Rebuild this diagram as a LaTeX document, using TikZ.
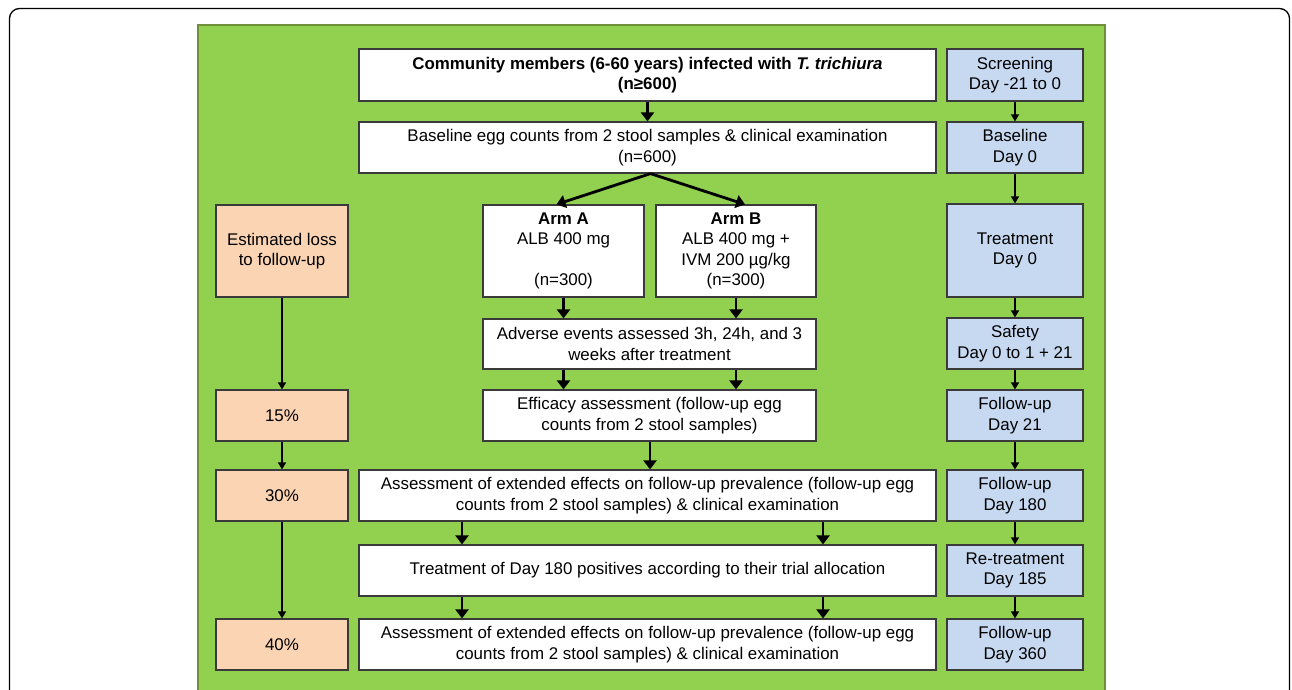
\documentclass[tikz,border=0pt]{standalone}
\usepackage{fontspec}
\setmainfont{Liberation Sans}
\usetikzlibrary{arrows.meta,calc}
\definecolor{panelgreen}{HTML}{92D050}
\definecolor{panelborder}{HTML}{6F8F3A}
\definecolor{peach}{HTML}{FBD4B4}
\definecolor{lightblue}{HTML}{C6D9F1}
\definecolor{boxline}{HTML}{3A3A3A}
\begin{document}
\begin{tikzpicture}[x=1pt,y=-1pt,
  box/.style={draw=boxline,line width=1.2pt,inner sep=0pt,align=center,
    font=\fontsize{16.9}{20.6}\selectfont},
  whitebox/.style={box,fill=white},
  lossbox/.style={box,fill=peach,minimum width=132pt},
  timebox/.style={box,fill=lightblue,minimum width=136pt},
  thick arrow/.style={line width=2.8pt,-{Triangle[width=13pt,length=9pt]}},
  thin arrow/.style={line width=1.2pt,-{Triangle[width=8pt,length=7pt]}}]
\clip (0,0) rectangle (1292,689);
\useasboundingbox (0,0) rectangle (1292,689);
\fill[white] (0,0) rectangle (1292,689);
% outer frame
\draw[line width=1.3pt,rounded corners=10pt] (9.5,720) -- (9.5,8.5) -- (1289.5,8.5) -- (1289.5,720);
% green panel
\draw[fill=panelgreen,draw=panelborder,line width=2pt] (198,25) rectangle (1105,720);

% main column
\node[whitebox,minimum width=577pt,minimum height=52pt] (top) at (647.5,75)
  {\textbf{Community members (6-60 years) infected with \textit{T. trichiura}}\\\textbf{(n≥600)}};
\node[whitebox,minimum width=577pt,minimum height=51pt] (base) at (647.5,147.5)
  {Baseline egg counts from 2 stool samples \& clinical examination\\(n=600)};
\node[whitebox,minimum width=161pt,minimum height=92pt] (armA) at (563.5,251)
  {\textbf{Arm A}\\ALB 400 mg\\\strut\\(n=300)};
\node[whitebox,minimum width=160pt,minimum height=92pt] (armB) at (736,251)
  {\textbf{Arm B}\\ALB 400 mg +\\IVM 200 µg/kg\\(n=300)};
\node[whitebox,minimum width=333pt,minimum height=50pt] (adv) at (649.5,344)
  {Adverse events assessed 3h, 24h, and 3\\weeks after treatment};
\node[whitebox,minimum width=333pt,minimum height=51pt] (eff) at (649.5,415.5)
  {Efficacy assessment (follow-up egg\\counts from 2 stool samples)};
\node[whitebox,minimum width=577pt,minimum height=51pt] (ass1) at (647.5,495.5)
  {Assessment of extended effects on follow-up prevalence (follow-up egg\\counts from 2 stool samples) \& clinical examination};
\node[whitebox,minimum width=577pt,minimum height=51pt] (treat) at (647.5,570.5)
  {Treatment of Day 180 positives according to their trial allocation};
\node[whitebox,minimum width=577pt,minimum height=51pt] (ass2) at (647.5,644.5)
  {Assessment of extended effects on follow-up prevalence (follow-up egg\\counts from 2 stool samples) \& clinical examination};

% loss column
\node[lossbox,minimum height=92pt] (loss) at (282,251) {Estimated loss\\to follow-up};
\node[lossbox,minimum height=51pt] (p15) at (282,415.5) {15\%};
\node[lossbox,minimum height=51pt] (p30) at (282,495.5) {30\%};
\node[lossbox,minimum height=51pt] (p40) at (282,644.5) {40\%};

% time column
\node[timebox,minimum height=52pt] (scr) at (1015,75) {Screening\\Day -21 to 0};
\node[timebox,minimum height=51pt] (bl) at (1015,147.5) {Baseline\\Day 0};
\node[timebox,minimum height=93pt] (tr) at (1015,250.5) {Treatment\\Day 0};
\node[timebox,minimum height=51pt] (saf) at (1015,343.5) {Safety\\Day 0 to 1 + 21};
\node[timebox,minimum height=51pt] (fu21) at (1015,415.5) {Follow-up\\Day 21};
\node[timebox,minimum height=51pt] (fu180) at (1015,495.5) {Follow-up\\Day 180};
\node[timebox,minimum height=51pt] (rt) at (1015,570.5) {Re-treatment\\Day 185};
\node[timebox,minimum height=51pt] (fu360) at (1015,644.5) {Follow-up\\Day 360};

% thick arrows
\draw[thick arrow] (top.south) -- (base.north);
\draw[thick arrow] ($(base.south)+(3,0)$) -- ($(armA.north)+(-7,0)$);
\draw[thick arrow] ($(base.south)+(3,0)$) -- ($(armB.north)+(9,0)$);
\draw[thick arrow] (armA.south) -- (armA.south |- adv.north);
\draw[thick arrow] (armB.south) -- (armB.south |- adv.north);
\draw[thick arrow] (adv.south -| armA.south) -- (eff.north -| armA.south);
\draw[thick arrow] (adv.south -| armB.south) -- (eff.north -| armB.south);
\coordinate (effx) at ($(eff.south)+(0.5,0)$);
\draw[thick arrow] (effx) -- (effx |- ass1.north);
\coordinate (lx) at (462,0);
\coordinate (rx) at (823,0);
\draw[thick arrow] (ass1.south -| lx) -- (treat.north -| lx);
\draw[thick arrow] (ass1.south -| rx) -- (treat.north -| rx);
\draw[thick arrow] (treat.south -| lx) -- (ass2.north -| lx);
\draw[thick arrow] (treat.south -| rx) -- (ass2.north -| rx);

% thin arrows
\draw[thin arrow] (loss) -- (p15);
\draw[thin arrow] (p15) -- (p30);
\draw[thin arrow] (p30) -- (p40);
\draw[thin arrow] (scr) -- (bl);
\draw[thin arrow] (bl) -- (tr);
\draw[thin arrow] (tr) -- (saf);
\draw[thin arrow] (saf) -- (fu21);
\draw[thin arrow] (fu21) -- (fu180);
\draw[thin arrow] (fu180) -- (rt);
\draw[thin arrow] (rt) -- (fu360);
\end{tikzpicture}
\end{document}
